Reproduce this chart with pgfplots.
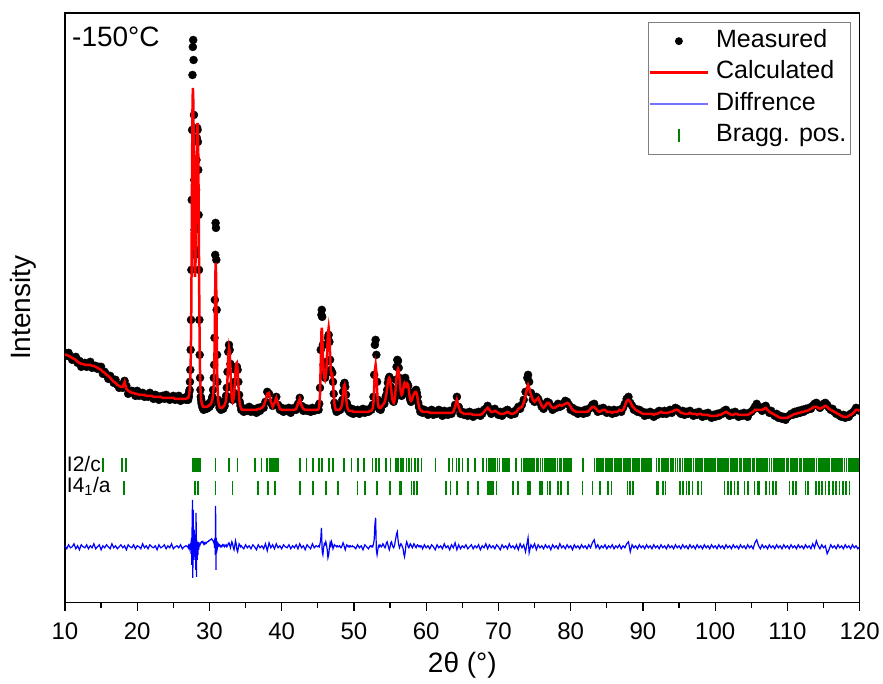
\documentclass[border=0pt]{standalone}
\usepackage{fontspec}
\setmainfont{Liberation Sans}
\usepackage{pgfplots}
\usepackage{pgfplotstable}
\pgfplotsset{compat=1.18}
\definecolor{braggc}{RGB}{0,128,0}
\pgfplotstableread{
x obs calc diff
10.00 247 245 54
10.25 244 245 51
10.50 247 244 55
10.75 243 243 52
11.00 240 242 53
11.25 242 241 56
11.50 243 240 51
11.75 237 238 54
12.00 239 237 50
12.25 233 236 55
12.50 236 236 53
12.75 237 235 52
13.00 233 235 55
13.25 236 235 51
13.50 238 235 54
13.75 232 234 52
14.00 234 234 56
14.25 234 233 51
14.50 231 232 53
14.75 233 231 55
15.00 233 230 50
15.25 226 228 54
15.50 228 227 52
15.75 225 225 55
16.00 221 224 53
16.25 224 222 51
16.50 221 220 56
16.75 217 218 52
17.00 220 217 54
17.25 215 215 51
17.50 212 214 53
17.75 215 213 55
18.00 212 213 52
18.25 219 218 54
18.50 214 211 50
18.75 206 209 55
19.00 208 208 53
19.25 209 207 52
19.50 208 207 55
19.75 204 206 51
20.00 209 206 54
20.25 204 205 53
20.50 205 205 51
20.75 207 205 56
21.00 203 205 52
21.25 205 204 54
21.50 203 204 51
21.75 207 204 55
22.00 204 204 53
22.25 201 203 52
22.50 205 203 54
22.75 204 203 50
23.00 200 203 55
23.25 203 203 52
23.50 204 202 53
23.75 201 202 55
24.00 205 202 51
24.25 203 202 54
24.50 200 202 52
24.75 202 202 56
25.00 204 202 51
25.25 200 201 53
25.50 202 201 54
25.75 204 201 52
26.00 199 201 55
26.25 201 201 51
26.50 202 201 53
26.75 200 201 54
27.00 204 202 53
27.05 200 202 52
27.10 205 203 54
27.15 203 204 53
27.20 208 206 54
27.25 210 209 52
27.30 218 214 55
27.35 230 222 50
27.40 250 236 57
27.45 280 262 46
27.50 330 305 62
27.55 400 370 35
27.60 470 440 75
27.65 525 490 100
27.70 553 512 22
27.75 560 505 90
27.80 540 470 60
27.85 485 420 40
27.90 420 370 70
27.95 370 335 55
28.00 345 323 45
28.05 350 330 65
28.10 375 350 30
28.15 410 385 87
28.20 440 425 23
28.25 462 455 60
28.30 472 472 40
28.35 470 477 55
28.40 458 470 45
28.45 430 445 58
28.50 385 400 50
28.55 330 345 53
28.60 280 290 55
28.65 245 250 56
28.70 222 225 55
28.75 210 212 56
28.80 203 205 57
28.85 200 200 57
28.90 197 198 58
28.95 195 196 58
29.00 196 195 57
29.05 192 194 57
29.10 195 194 58
29.15 193 193 57
29.20 190 193 56
29.25 194 193 57
29.30 193 193 57
29.35 191 193 56
29.40 195 193 57
29.45 192 193 56
29.50 194 193 56
29.60 191 193 57
29.70 195 193 58
29.80 192 194 58
29.90 196 194 59
30.00 193 195 59
30.10 197 195 60
30.20 195 196 60
30.30 200 198 61
30.40 203 200 60
30.50 210 205 59
30.60 222 215 57
30.65 235 228 58
30.70 262 245 52
30.75 300 275 62
30.80 345 310 45
30.85 377 337 94
30.90 372 330 30
30.95 340 305 62
31.00 290 270 50
31.05 245 238 58
31.10 218 215 52
31.20 200 200 56
31.30 196 195 54
31.40 192 193 55
31.50 194 192 53
31.60 190 192 54
31.70 193 192 53
31.80 195 193 55
31.90 191 193 54
32.00 196 194 55
32.10 194 195 53
32.20 199 197 54
32.30 204 200 55
32.40 212 208 53
32.50 228 222 54
32.60 248 243 56
32.70 255 252 57
32.80 250 248 55
32.90 236 232 52
33.00 214 212 55
33.10 203 200 58
33.20 200 198 56
33.30 203 200 52
33.40 207 205 50
33.50 218 215 54
33.60 230 228 59
33.70 233 236 56
33.80 233 237 50
33.90 230 230 48
34.00 218 215 52
34.10 205 203 56
34.20 198 196 55
34.30 194 193 53
34.40 190 191 54
34.50 192 190 53
34.75 188 190 51
35.00 191 190 55
35.25 189 190 52
35.50 193 190 54
35.75 188 190 51
36.00 191 190 55
36.25 190 190 53
36.50 187 190 50
36.75 192 191 55
37.00 189 191 52
37.25 193 192 54
37.50 192 194 51
37.75 198 199 56
38.00 208 206 49
38.25 206 207 57
38.50 197 198 52
38.75 194 193 55
39.00 198 197 51
39.25 203 202 56
39.50 195 196 52
39.75 190 191 54
40.00 192 190 51
40.25 188 190 55
40.50 191 190 53
40.75 189 190 52
41.00 192 190 55
41.25 187 190 51
41.50 190 190 54
41.75 192 190 52
42.00 190 191 55
42.25 196 196 51
42.50 202 201 56
42.75 194 194 52
43.00 189 191 54
43.25 192 190 50
43.50 189 190 55
43.75 191 190 53
44.00 188 190 51
44.25 192 190 56
44.50 189 190 52
44.75 191 190 54
45.00 192 190 53
45.10 190 191 54
45.20 196 194 53
45.30 212 205 56
45.40 250 235 60
45.50 285 268 72
45.55 290 272 62
45.60 283 268 48
45.70 255 245 45
45.80 235 228 52
45.90 226 222 56
46.00 222 220 55
46.10 226 223 58
46.20 238 232 55
46.30 255 250 50
46.40 262 266 42
46.50 265 272 45
46.60 258 265 52
46.70 240 245 57
46.80 230 228 54
46.90 228 224 58
47.00 227 225 55
47.10 218 218 51
47.20 206 205 53
47.30 197 196 55
47.40 193 192 54
47.50 191 190 54
47.60 188 190 53
47.70 192 190 54
47.80 189 190 53
47.90 191 190 53
48.00 193 190 54
48.10 190 191 53
48.20 193 192 52
48.30 196 194 53
48.40 200 198 55
48.50 208 206 57
48.60 215 213 55
48.70 217 215 52
48.80 213 212 50
48.90 205 203 53
49.00 197 196 55
49.10 194 192 54
49.20 190 190 53
49.30 192 189 54
49.40 188 189 53
49.50 190 189 54
49.60 187 189 53
49.70 191 189 53
49.80 189 189 54
49.90 186 188 53
50.00 190 188 53
50.25 187 188 51
50.50 190 188 55
50.75 186 188 52
51.00 189 188 54
51.25 191 188 50
51.50 187 188 55
51.75 190 188 53
52.00 188 188 51
52.25 191 189 54
52.40 190 189 53
52.50 193 190 54
52.60 195 192 53
52.70 203 197 56
52.80 225 212 60
52.90 255 230 75
53.00 260 235 82
53.10 245 228 50
53.20 218 210 45
53.30 200 198 50
53.40 194 193 54
53.50 191 192 53
53.60 193 192 55
53.70 190 192 54
53.80 194 193 53
53.90 196 194 54
54.00 195 195 56
54.10 197 196 55
54.20 196 197 53
54.30 200 199 52
54.40 203 202 54
54.50 205 206 57
54.60 210 212 58
54.70 217 218 55
54.80 221 221 52
54.90 223 222 50
55.00 221 220 53
55.10 213 214 57
55.20 206 207 58
55.30 201 201 55
55.40 199 198 53
55.50 198 197 52
55.60 201 199 54
55.70 208 204 58
55.80 220 213 62
55.90 233 223 66
56.00 240 229 68
56.10 239 231 60
56.20 232 229 55
56.30 222 222 52
56.40 213 213 54
56.50 206 207 56
56.60 204 205 55
56.70 206 206 53
56.80 210 210 51
56.90 216 214 46
57.00 221 217 43
57.10 222 216 48
57.20 218 213 55
57.30 215 213 58
57.40 216 216 56
57.50 214 215 53
57.60 208 210 52
57.70 203 204 54
57.80 200 200 56
57.90 198 199 55
58.00 200 200 53
58.10 202 202 52
58.20 204 204 54
58.30 205 206 56
58.40 208 207 55
58.50 209 208 53
58.60 210 208 52
58.70 207 206 54
58.80 203 202 55
58.90 197 197 54
59.00 193 193 53
59.10 192 191 54
59.20 188 190 53
59.30 191 189 54
59.40 189 189 53
59.50 187 188 51
59.75 190 188 55
60.00 188 188 52
60.25 185 188 54
60.50 189 187 51
60.75 190 187 55
61.00 185 187 53
61.25 188 187 50
61.50 186 187 55
61.75 190 187 52
62.00 187 187 54
62.25 184 187 51
62.50 189 187 56
62.75 187 187 52
63.00 185 187 54
63.25 189 187 50
63.50 186 187 55
63.75 190 188 52
64.00 195 193 57
64.25 203 200 50
64.50 193 193 55
64.75 186 188 51
65.00 188 187 54
65.25 185 186 52
65.50 187 186 55
65.75 184 186 51
66.00 188 186 53
66.25 186 186 55
66.50 183 185 51
66.75 187 185 54
67.00 185 185 52
67.25 188 185 55
67.50 184 185 50
67.75 186 186 54
68.00 190 188 52
68.25 191 190 56
68.50 194 192 51
68.75 189 190 55
69.00 186 188 52
69.25 190 188 54
69.50 191 189 51
69.75 187 188 55
70.00 185 187 53
70.25 188 186 50
70.50 184 186 55
70.75 187 186 52
71.00 189 187 54
71.25 190 188 51
71.50 186 187 56
71.75 185 186 52
72.00 188 186 54
72.25 186 187 51
72.50 190 188 55
72.75 193 191 50
73.00 191 192 56
73.25 195 193 52
73.50 200 197 55
73.75 208 204 48
74.00 222 213 58
74.10 225 215 62
74.25 218 212 47
74.50 207 205 55
74.75 200 200 52
75.00 198 198 56
75.25 203 200 50
75.50 201 202 55
75.75 197 198 52
76.00 193 194 54
76.25 191 192 51
76.50 195 194 55
76.75 198 197 52
77.00 197 197 54
77.25 193 194 50
77.50 190 192 55
77.75 193 192 52
78.00 192 193 54
78.25 196 194 51
78.50 193 195 56
78.75 194 194 52
79.00 196 195 54
79.25 199 196 51
79.50 198 197 55
79.75 195 196 52
80.00 190 193 54
80.25 192 190 50
80.50 188 189 55
80.75 190 188 52
81.00 186 188 54
81.25 189 188 51
81.50 188 188 55
81.75 186 188 52
82.00 190 188 54
82.25 187 188 51
82.50 191 189 55
82.75 192 191 52
83.00 195 193 57
83.25 196 193 60
83.50 191 191 52
83.75 188 189 55
84.00 191 188 51
84.25 189 189 54
84.50 192 190 52
84.75 189 190 55
85.00 187 188 51
85.25 190 188 54
85.50 189 188 52
85.75 186 187 55
86.00 190 188 51
86.25 187 188 54
86.50 189 188 52
86.75 190 190 55
87.00 188 189 51
87.25 192 190 54
87.50 196 194 52
87.75 201 199 56
88.00 203 200 58
88.25 197 198 48
88.50 194 194 55
88.75 190 192 52
89.00 191 190 54
89.25 188 189 51
89.50 190 188 55
89.75 187 187 52
90.00 188 186 54
90.25 184 186 51
90.50 187 186 55
90.75 185 186 52
91.00 188 186 54
91.25 186 186 51
91.50 183 185 55
91.75 187 186 52
92.00 185 186 54
92.25 189 187 51
92.50 188 188 55
92.75 186 187 52
93.00 189 187 54
93.25 186 187 51
93.50 188 187 55
93.75 190 188 52
94.00 187 188 54
94.25 190 189 51
94.50 192 190 55
94.75 191 190 52
95.00 188 189 54
95.25 186 187 51
95.50 189 187 55
95.75 185 186 52
96.00 188 186 54
96.25 186 186 51
96.50 189 187 55
96.75 187 186 52
97.00 184 186 54
97.25 187 186 51
97.50 185 185 55
97.75 188 186 52
98.00 186 186 54
98.25 183 185 51
98.50 186 185 55
98.75 184 185 52
99.00 187 185 54
99.25 185 184 51
99.50 182 184 55
99.75 185 184 52
100.00 183 184 54
100.25 186 184 51
100.50 184 185 55
100.75 187 185 52
101.00 186 186 54
101.25 189 187 51
101.50 190 188 55
101.75 186 187 52
102.00 184 186 54
102.25 187 185 51
102.50 185 185 55
102.75 188 186 52
103.00 186 186 54
103.25 183 185 51
103.50 186 185 55
103.75 184 185 52
104.00 187 185 54
104.25 185 185 51
104.50 183 185 55
104.75 187 186 52
105.00 188 187 54
105.25 190 188 51
105.50 193 190 57
105.75 196 190 60
106.00 193 190 54
106.25 191 190 51
106.50 189 190 55
106.75 193 191 52
107.00 194 192 54
107.25 190 190 51
107.50 187 188 55
107.75 189 187 52
108.00 186 186 54
108.25 184 185 51
108.50 186 184 55
108.75 182 183 52
109.00 184 182 54
109.25 181 182 51
109.50 183 182 55
109.75 180 182 52
110.00 183 182 54
110.25 184 183 51
110.50 186 184 55
110.75 185 185 52
111.00 188 186 54
111.25 186 186 51
111.50 189 187 55
111.75 187 187 52
112.00 190 188 54
112.25 188 188 51
112.50 191 189 55
112.75 190 189 52
113.00 192 190 54
113.25 191 191 51
113.50 194 192 56
113.75 196 193 52
114.00 197 193 59
114.25 194 192 54
114.50 192 191 51
114.75 194 192 55
115.00 196 193 52
115.25 197 194 54
115.50 195 193 46
115.75 192 191 50
116.00 190 190 55
116.25 191 189 52
116.50 188 188 54
116.75 186 187 51
117.00 187 186 55
117.25 184 185 52
117.50 183 184 54
117.75 185 183 51
118.00 182 183 55
118.25 184 183 52
118.50 183 184 54
118.75 186 185 51
119.00 187 186 55
119.25 189 188 52
119.50 192 190 54
119.75 191 190 51
120.00 189 189 53
}\rietveld
\begin{document}
\begin{tikzpicture}
\begin{axis}[
  at={(0pt,0pt)}, anchor=south west,
  scale only axis, width=795pt, height=590pt,
  xmin=10, xmax=120, ymin=-3, ymax=587,
  axis line style={line width=1.3pt},
  clip marker paths=true,
  unbounded coords=jump,
  xtick={10,20,...,120}, minor x tick num=1,
  ytick=\empty,
  xtick pos=bottom, tick align=outside,
  major tick length=8pt, minor tick length=5pt,
  xtick style={black, line width=1.2pt},
  /pgf/number format/assume math mode=true,
  xticklabel style={font=\fontsize{24}{28}\selectfont, yshift=-8pt},
  xlabel={2θ (°)}, ylabel={Intensity},
  xlabel style={font=\fontsize{28}{32}\selectfont, at={(axis description cs:0.5,-0.118)}, anchor=base},
  ylabel style={font=\fontsize{28}{32}\selectfont, at={(axis description cs:-0.044,0.5)}, anchor=base},
  legend style={at={(0.9887,0.9847)}, anchor=north east, draw=gray, line width=0.8pt,
    font=\fontsize{25}{29}\selectfont, inner xsep=0pt, inner ysep=3pt, row sep=0pt,
    nodes={inner sep=4pt, text height=18pt, text depth=5.5pt},
    /tikz/every odd column/.append style={column sep=3pt},
    cells={anchor=west}},
]
\addplot[only marks, mark=*, mark size=4pt, black, forget plot] table[x=x,y=obs]{\rietveld};
\addplot[red, line width=2.5pt, forget plot] table[x=x,y=calc]{\rietveld};
\addplot[blue, line width=1.2pt, forget plot] table[x=x,y=diff]{\rietveld};
% Bragg positions, I2/c (each tick: bottom, top, break)
\addplot[draw=braggc, line width=1.6pt, mark=none, forget plot] coordinates {
(15.3,128)(15.3,142)(15.3,nan)(17.93,128)(17.93,142)(17.93,nan)(18.44,128)(18.44,142)(18.44,nan)
(27.75,128)(27.75,142)(27.75,nan)(27.85,128)(27.85,142)(27.85,nan)(28.0,128)(28.0,142)(28.0,nan)
(28.1,128)(28.1,142)(28.1,nan)(28.27,128)(28.27,142)(28.27,nan)(28.45,128)(28.45,142)(28.45,nan)
(28.6,128)(28.6,142)(28.6,nan)(28.68,128)(28.68,142)(28.68,nan)(30.85,128)(30.85,142)(30.85,nan)
(32.69,128)(32.69,142)(32.69,nan)(33.9,128)(33.9,142)(33.9,nan)(36.29,128)(36.29,142)(36.29,nan)
(37.22,128)(37.22,142)(37.22,nan)(38.0,128)(38.0,142)(38.0,nan)(38.37,128)(38.37,142)(38.37,nan)
(38.6,128)(38.6,142)(38.6,nan)(38.78,128)(38.78,142)(38.78,nan)(39.06,128)(39.06,142)(39.06,nan)
(39.3,128)(39.3,142)(39.3,nan)(39.5,128)(39.5,142)(39.5,nan)(42.52,128)(42.52,142)(42.52,nan)
(43.44,128)(43.44,142)(43.44,nan)(44.36,128)(44.36,142)(44.36,nan)(45.19,128)(45.19,142)(45.19,nan)
(45.6,128)(45.6,142)(45.6,nan)(46.53,128)(46.53,142)(46.53,nan)(47.12,128)(47.12,142)(47.12,nan)
(48.6,128)(48.6,142)(48.6,nan)(49.67,128)(49.67,142)(49.67,nan)(50.58,128)(50.58,142)(50.58,nan)
(51.37,128)(51.37,142)(51.37,nan)(52.58,128)(52.58,142)(52.58,nan)(53.03,128)(53.03,142)(53.03,nan)
(53.49,128)(53.49,142)(53.49,nan)(54.42,128)(54.42,142)(54.42,nan)(55.07,128)(55.07,142)(55.07,nan)
(55.8,128)(55.8,142)(55.8,nan)(56.12,128)(56.12,142)(56.12,nan)(56.49,128)(56.49,142)(56.49,nan)
(56.81,128)(56.81,142)(56.81,nan)(57.28,128)(57.28,142)(57.28,nan)(57.64,128)(57.64,142)(57.64,nan)
(57.97,128)(57.97,142)(57.97,nan)(58.43,128)(58.43,142)(58.43,nan)(58.89,128)(58.89,142)(58.89,nan)
(59.36,128)(59.36,142)(59.36,nan)(61.29,128)(61.29,142)(61.29,nan)(63.18,128)(63.18,142)(63.18,nan)
(63.64,128)(63.64,142)(63.64,nan)(64.2,128)(64.2,142)(64.2,nan)(64.56,128)(64.56,142)(64.56,nan)
(65.03,128)(65.03,142)(65.03,nan)(65.8,128)(65.8,142)(65.8,nan)(66.73,128)(66.73,142)(66.73,nan)
(67.88,128)(67.88,142)(67.88,nan)(68.35,128)(68.35,142)(68.35,nan)(68.6,128)(68.6,142)(68.6,nan)
(68.85,128)(68.85,142)(68.85,nan)(69.1,128)(69.1,142)(69.1,nan)(69.35,128)(69.35,142)(69.35,nan)
(69.6,128)(69.6,142)(69.6,nan)(69.85,128)(69.85,142)(69.85,nan)(70.15,128)(70.15,142)(70.15,nan)
(70.65,128)(70.65,142)(70.65,nan)(70.9,128)(70.9,142)(70.9,nan)(71.2,128)(71.2,142)(71.2,nan)
(71.5,128)(71.5,142)(71.5,nan)(72.4,128)(72.4,142)(72.4,nan)(73.2,128)(73.2,142)(73.2,nan)
(73.45,128)(73.45,142)(73.45,nan)(73.7,128)(73.7,142)(73.7,nan)(73.95,128)(73.95,142)(73.95,nan)
(74.2,128)(74.2,142)(74.2,nan)(74.5,128)(74.5,142)(74.5,nan)(74.75,128)(74.75,142)(74.75,nan)
(75.0,128)(75.0,142)(75.0,nan)(75.3,128)(75.3,142)(75.3,nan)(75.55,128)(75.55,142)(75.55,nan)
(75.8,128)(75.8,142)(75.8,nan)(76.1,128)(76.1,142)(76.1,nan)(76.35,128)(76.35,142)(76.35,nan)
(76.6,128)(76.6,142)(76.6,nan)(76.85,128)(76.85,142)(76.85,nan)(77.15,128)(77.15,142)(77.15,nan)
(77.4,128)(77.4,142)(77.4,nan)(77.65,128)(77.65,142)(77.65,nan)(77.9,128)(77.9,142)(77.9,nan)
(78.2,128)(78.2,142)(78.2,nan)(78.45,128)(78.45,142)(78.45,nan)(78.7,128)(78.7,142)(78.7,nan)
(79.0,128)(79.0,142)(79.0,nan)(79.25,128)(79.25,142)(79.25,nan)(79.5,128)(79.5,142)(79.5,nan)
(79.8,128)(79.8,142)(79.8,nan)(80.05,128)(80.05,142)(80.05,nan)(81.7,128)(81.7,142)(81.7,nan)
(83.3,128)(83.3,142)(83.3,nan)(83.55,128)(83.55,142)(83.55,nan)(83.8,128)(83.8,142)(83.8,nan)
(84.05,128)(84.05,142)(84.05,nan)(84.3,128)(84.3,142)(84.3,nan)(84.55,128)(84.55,142)(84.55,nan)
(84.8,128)(84.8,142)(84.8,nan)(85.05,128)(85.05,142)(85.05,nan)(85.3,128)(85.3,142)(85.3,nan)
(85.55,128)(85.55,142)(85.55,nan)(85.8,128)(85.8,142)(85.8,nan)(86.05,128)(86.05,142)(86.05,nan)
(86.3,128)(86.3,142)(86.3,nan)(86.55,128)(86.55,142)(86.55,nan)(86.8,128)(86.8,142)(86.8,nan)
(87.05,128)(87.05,142)(87.05,nan)(87.3,128)(87.3,142)(87.3,nan)(87.55,128)(87.55,142)(87.55,nan)
(87.8,128)(87.8,142)(87.8,nan)(88.05,128)(88.05,142)(88.05,nan)(88.3,128)(88.3,142)(88.3,nan)
(88.55,128)(88.55,142)(88.55,nan)(88.8,128)(88.8,142)(88.8,nan)(89.05,128)(89.05,142)(89.05,nan)
(89.3,128)(89.3,142)(89.3,nan)(89.55,128)(89.55,142)(89.55,nan)(89.8,128)(89.8,142)(89.8,nan)
(90.05,128)(90.05,142)(90.05,nan)(90.3,128)(90.3,142)(90.3,nan)(90.55,128)(90.55,142)(90.55,nan)
(90.8,128)(90.8,142)(90.8,nan)(91.1,128)(91.1,142)(91.1,nan)(91.9,128)(91.9,142)(91.9,nan)
(92.25,128)(92.25,142)(92.25,nan)(92.6,128)(92.6,142)(92.6,nan)(92.9,128)(92.9,142)(92.9,nan)
(93.2,128)(93.2,142)(93.2,nan)(93.5,128)(93.5,142)(93.5,nan)(93.85,128)(93.85,142)(93.85,nan)
(94.2,128)(94.2,142)(94.2,nan)(94.5,128)(94.5,142)(94.5,nan)(94.8,128)(94.8,142)(94.8,nan)
(95.1,128)(95.1,142)(95.1,nan)(95.45,128)(95.45,142)(95.45,nan)(95.75,128)(95.75,142)(95.75,nan)
(96.0,128)(96.0,142)(96.0,nan)(96.25,128)(96.25,142)(96.25,nan)(96.5,128)(96.5,142)(96.5,nan)
(96.75,128)(96.75,142)(96.75,nan)(97.0,128)(97.0,142)(97.0,nan)(97.25,128)(97.25,142)(97.25,nan)
(97.5,128)(97.5,142)(97.5,nan)(97.75,128)(97.75,142)(97.75,nan)(98.0,128)(98.0,142)(98.0,nan)
(98.25,128)(98.25,142)(98.25,nan)(98.5,128)(98.5,142)(98.5,nan)(98.75,128)(98.75,142)(98.75,nan)
(99.0,128)(99.0,142)(99.0,nan)(99.3,128)(99.3,142)(99.3,nan)(99.55,128)(99.55,142)(99.55,nan)
(99.8,128)(99.8,142)(99.8,nan)(100.05,128)(100.05,142)(100.05,nan)(100.3,128)(100.3,142)(100.3,nan)
(100.55,128)(100.55,142)(100.55,nan)(100.8,128)(100.8,142)(100.8,nan)(101.1,128)(101.1,142)(101.1,nan)
(101.35,128)(101.35,142)(101.35,nan)(101.6,128)(101.6,142)(101.6,nan)(101.85,128)(101.85,142)(101.85,nan)
(102.1,128)(102.1,142)(102.1,nan)(102.35,128)(102.35,142)(102.35,nan)(102.6,128)(102.6,142)(102.6,nan)
(102.85,128)(102.85,142)(102.85,nan)(103.1,128)(103.1,142)(103.1,nan)(103.4,128)(103.4,142)(103.4,nan)
(103.65,128)(103.65,142)(103.65,nan)(103.9,128)(103.9,142)(103.9,nan)(104.15,128)(104.15,142)(104.15,nan)
(104.4,128)(104.4,142)(104.4,nan)(104.65,128)(104.65,142)(104.65,nan)(104.9,128)(104.9,142)(104.9,nan)
(105.2,128)(105.2,142)(105.2,nan)(105.45,128)(105.45,142)(105.45,nan)(105.7,128)(105.7,142)(105.7,nan)
(105.95,128)(105.95,142)(105.95,nan)(106.2,128)(106.2,142)(106.2,nan)(106.5,128)(106.5,142)(106.5,nan)
(106.75,128)(106.75,142)(106.75,nan)(107.0,128)(107.0,142)(107.0,nan)(107.25,128)(107.25,142)(107.25,nan)
(107.5,128)(107.5,142)(107.5,nan)(107.8,128)(107.8,142)(107.8,nan)(108.05,128)(108.05,142)(108.05,nan)
(108.3,128)(108.3,142)(108.3,nan)(108.55,128)(108.55,142)(108.55,nan)(108.8,128)(108.8,142)(108.8,nan)
(109.1,128)(109.1,142)(109.1,nan)(109.35,128)(109.35,142)(109.35,nan)(109.6,128)(109.6,142)(109.6,nan)
(109.85,128)(109.85,142)(109.85,nan)(110.1,128)(110.1,142)(110.1,nan)(110.4,128)(110.4,142)(110.4,nan)
(110.65,128)(110.65,142)(110.65,nan)(110.9,128)(110.9,142)(110.9,nan)(111.15,128)(111.15,142)(111.15,nan)
(111.4,128)(111.4,142)(111.4,nan)(111.7,128)(111.7,142)(111.7,nan)(111.95,128)(111.95,142)(111.95,nan)
(112.2,128)(112.2,142)(112.2,nan)(112.45,128)(112.45,142)(112.45,nan)(112.7,128)(112.7,142)(112.7,nan)
(113.0,128)(113.0,142)(113.0,nan)(113.25,128)(113.25,142)(113.25,nan)(113.5,128)(113.5,142)(113.5,nan)
(113.75,128)(113.75,142)(113.75,nan)(114.0,128)(114.0,142)(114.0,nan)(114.3,128)(114.3,142)(114.3,nan)
(114.55,128)(114.55,142)(114.55,nan)(114.8,128)(114.8,142)(114.8,nan)(115.05,128)(115.05,142)(115.05,nan)
(115.3,128)(115.3,142)(115.3,nan)(115.6,128)(115.6,142)(115.6,nan)(115.85,128)(115.85,142)(115.85,nan)
(116.1,128)(116.1,142)(116.1,nan)(116.35,128)(116.35,142)(116.35,nan)(116.6,128)(116.6,142)(116.6,nan)
(116.9,128)(116.9,142)(116.9,nan)(117.15,128)(117.15,142)(117.15,nan)(117.4,128)(117.4,142)(117.4,nan)
(117.65,128)(117.65,142)(117.65,nan)(117.9,128)(117.9,142)(117.9,nan)(118.2,128)(118.2,142)(118.2,nan)
(118.45,128)(118.45,142)(118.45,nan)(118.7,128)(118.7,142)(118.7,nan)(118.95,128)(118.95,142)(118.95,nan)
(119.2,128)(119.2,142)(119.2,nan)(119.5,128)(119.5,142)(119.5,nan)(119.75,128)(119.75,142)(119.75,nan)
};
% Bragg positions, I4_1/a
\addplot[draw=braggc, line width=1.6pt, mark=none, forget plot] coordinates {
(18.2,105)(18.2,119)(18.2,nan)(28.0,105)(28.0,119)(28.0,nan)(28.45,105)(28.45,119)(28.45,nan)
(30.85,105)(30.85,119)(30.85,nan)(33.2,105)(33.2,119)(33.2,nan)(36.75,105)(36.75,119)(36.75,nan)
(38.13,105)(38.13,119)(38.13,nan)(39.06,105)(39.06,119)(39.06,nan)(42.52,105)(42.52,119)(42.52,nan)
(44.36,105)(44.36,119)(44.36,nan)(46.11,105)(46.11,119)(46.11,nan)(47.82,105)(47.82,119)(47.82,nan)
(50.5,105)(50.5,119)(50.5,nan)(51.51,105)(51.51,119)(51.51,nan)(53.21,105)(53.21,119)(53.21,nan)
(54.97,105)(54.97,119)(54.97,nan)(56.35,105)(56.35,119)(56.35,nan)(56.59,105)(56.59,119)(56.59,nan)
(57.97,105)(57.97,119)(57.97,nan)(58.33,105)(58.33,119)(58.33,nan)(58.75,105)(58.75,119)(58.75,nan)
(62.72,105)(62.72,119)(62.72,nan)(63.37,105)(63.37,119)(63.37,nan)(64.28,105)(64.28,119)(64.28,nan)
(65.8,105)(65.8,119)(65.8,nan)(67.19,105)(67.19,119)(67.19,nan)(68.57,105)(68.57,119)(68.57,nan)
(68.8,105)(68.8,119)(68.8,nan)(69.04,105)(69.04,119)(69.04,nan)(69.27,105)(69.27,119)(69.27,nan)
(69.73,105)(69.73,119)(69.73,nan)(72.03,105)(72.03,119)(72.03,nan)(72.72,105)(72.72,119)(72.72,nan)
(74.1,105)(74.1,119)(74.1,nan)(74.34,105)(74.34,119)(74.34,nan)(75.73,105)(75.73,119)(75.73,nan)
(76.05,105)(76.05,119)(76.05,nan)(76.79,105)(76.79,119)(76.79,nan)(77.11,105)(77.11,119)(77.11,nan)
(78.26,105)(78.26,119)(78.26,nan)(78.64,105)(78.64,119)(78.64,nan)(79.65,105)(79.65,119)(79.65,nan)
(81.63,105)(81.63,119)(81.63,nan)(83.02,105)(83.02,119)(83.02,nan)(84.03,105)(84.03,119)(84.03,nan)
(85.18,105)(85.18,119)(85.18,nan)(85.64,105)(85.64,119)(85.64,nan)(87.86,105)(87.86,119)(87.86,nan)
(88.17,105)(88.17,119)(88.17,nan)(88.63,105)(88.63,119)(88.63,nan)(91.86,105)(91.86,119)(91.86,nan)
(92.09,105)(92.09,119)(92.09,nan)(92.78,105)(92.78,119)(92.78,nan)(93.15,105)(93.15,119)(93.15,nan)
(95.09,105)(95.09,119)(95.09,nan)(95.55,105)(95.55,119)(95.55,nan)(96.01,105)(96.01,119)(96.01,nan)
(96.38,105)(96.38,119)(96.38,nan)(96.84,105)(96.84,119)(96.84,nan)(97.62,105)(97.62,119)(97.62,nan)
(98.08,105)(98.08,119)(98.08,nan)(101.3,105)(101.3,119)(101.3,nan)(101.76,105)(101.76,119)(101.76,nan)
(102.22,105)(102.22,119)(102.22,nan)(102.68,105)(102.68,119)(102.68,nan)(103.14,105)(103.14,119)(103.14,nan)
(104.07,105)(104.07,119)(104.07,nan)(104.53,105)(104.53,119)(104.53,nan)(105.45,105)(105.45,119)(105.45,nan)
(105.91,105)(105.91,119)(105.91,nan)(106.15,105)(106.15,119)(106.15,nan)(107.07,105)(107.07,119)(107.07,nan)
(107.53,105)(107.53,119)(107.53,nan)(107.99,105)(107.99,119)(107.99,nan)(108.45,105)(108.45,119)(108.45,nan)
(110.29,105)(110.29,119)(110.29,nan)(110.75,105)(110.75,119)(110.75,nan)(111.21,105)(111.21,119)(111.21,nan)
(112.5,105)(112.5,119)(112.5,nan)(112.82,105)(112.82,119)(112.82,nan)(113.97,105)(113.97,119)(113.97,nan)
(114.34,105)(114.34,119)(114.34,nan)(114.8,105)(114.8,119)(114.8,nan)(115.26,105)(115.26,119)(115.26,nan)
(115.72,105)(115.72,119)(115.72,nan)(116.27,105)(116.27,119)(116.27,nan)(116.73,105)(116.73,119)(116.73,nan)
(117.2,105)(117.2,119)(117.2,nan)(117.66,105)(117.66,119)(117.66,nan)(118.12,105)(118.12,119)(118.12,nan)
(118.58,105)(118.58,119)(118.58,nan)
};
\addlegendimage{legend image code/.code={\path (0pt,0pt) (58pt,0pt); \fill[black] (29pt,0pt) circle (3.5pt);}}
\addlegendentry{Measured}
\addlegendimage{legend image code/.code={\draw[red, line width=2.5pt] (0pt,0pt) -- (58pt,0pt);}}
\addlegendentry{Calculated}
\addlegendimage{legend image code/.code={\draw[blue!55, line width=1.3pt] (0pt,0pt) -- (58pt,0pt);}}
\addlegendentry{Diffrence}
\addlegendimage{legend image code/.code={\path (0pt,0pt) (58pt,0pt); \fill[braggc] (28.2pt,-6pt) rectangle (29.8pt,6pt);}}
\addlegendentry{Bragg. pos.}
\node[anchor=base west, inner sep=0pt, font=\fontsize{21}{25}\selectfont] at (axis cs:10.25,128) {I2/c};
\node[anchor=base west, inner sep=0pt, font=\fontsize{21}{25}\selectfont] at (axis cs:10.25,107) {I4\textsubscript{1}/a};
\node[anchor=base west, inner sep=0pt, font=\fontsize{28}{32}\selectfont] at (axis cs:10.97,553) {-150°C};
\end{axis}
\path (-65pt,-81pt) rectangle (818pt,603pt);
\end{tikzpicture}
\end{document}
